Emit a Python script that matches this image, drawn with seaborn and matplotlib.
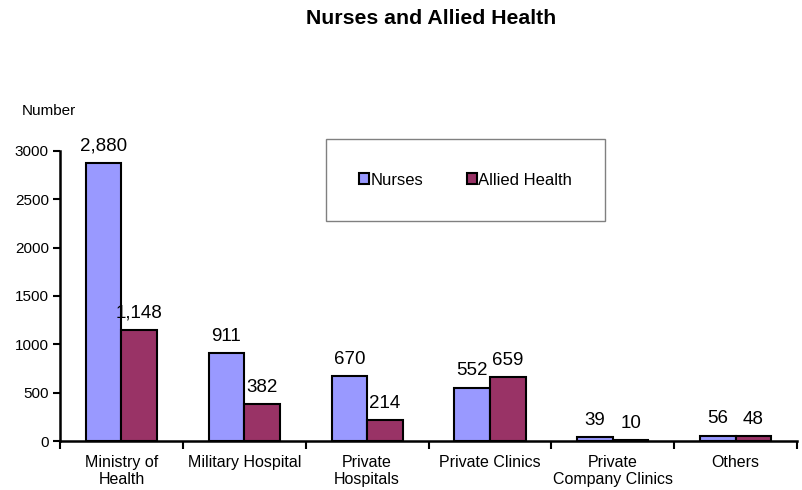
import matplotlib
matplotlib.use("Agg")
import matplotlib.pyplot as plt
from matplotlib.patches import Rectangle
import seaborn as sns
import pandas as pd
import numpy as np

categories = ["Ministry of\nHealth", "Military Hospital", "Private\nHospitals",
              "Private Clinics", "Private\nCompany Clinics", "Others"]
nurses = [2880, 911, 670, 552, 39, 56]
allied = [1148, 382, 214, 659, 10, 48]
series = ["Nurses", "Allied Health"]
colors = ["#9999FF", "#993366"]

sns.set_theme(style="white")
plt.rcParams["font.family"] = ["Liberation Sans", "DejaVu Sans"]
plt.rcParams["text.color"] = "black"
plt.rcParams["xtick.color"] = "black"
plt.rcParams["ytick.color"] = "black"
plt.rcParams["axes.labelcolor"] = "black"

df = pd.DataFrame({
    "cat": categories * 2,
    "val": nurses + allied,
    "series": [series[0]] * len(categories) + [series[1]] * len(categories),
})

fig = plt.figure(figsize=(8.03, 4.9), dpi=100)
ax = fig.add_axes([0.0747, 0.1, 0.918, 0.592])
sns.barplot(data=df, x="cat", y="val", hue="series", order=categories,
            hue_order=series, palette=colors, width=0.58, edgecolor="black",
            linewidth=1.5, saturation=1, ax=ax, legend=True)

for cont in ax.containers:
    ax.bar_label(cont, labels=[f"{v:,.0f}" for v in cont.datavalues],
                 padding=6, fontsize=13.5, color="black")

ax.set_ylim(0, 3000)
ax.set_xlim(-0.5, 5.5)
ax.set_yticks(np.arange(0, 3001, 500))
ax.tick_params(axis="y", labelsize=11, length=5, width=1.5, direction="out", left=True, pad=3)
ax.tick_params(axis="x", which="major", length=0, labelsize=11.5, pad=10)
ax.set_xticks(np.arange(-0.5, 5.6, 1), minor=True)
ax.tick_params(axis="x", which="minor", length=6, width=1.5, direction="out", bottom=True)
ax.set_xlabel("")
ax.set_ylabel("")
for s in ["top", "right"]:
    ax.spines[s].set_visible(False)
for s in ["left", "bottom"]:
    ax.spines[s].set_color("black")
    ax.spines[s].set_linewidth(1.8)

# legend box
x0, x1, y0, y1 = 326 / 803, 605 / 803, 1 - 221 / 490, 1 - 139 / 490
ax.add_patch(Rectangle((x0, y0), x1 - x0, y1 - y0, transform=fig.transFigure,
                       facecolor="white", edgecolor="#808080", linewidth=1.0,
                       zorder=5, clip_on=False))
leg = ax.legend(loc="center", bbox_to_anchor=((x0 + x1) / 2, (y0 + y1) / 2),
                bbox_transform=fig.transFigure,
                ncol=2, fontsize=12, frameon=False,
                handlelength=0.6, handleheight=0.6, handletextpad=0.1,
                columnspacing=2.6, title=None)
leg.set_zorder(6)

fig.text(431 / 803, 1 - 18 / 490, "Nurses and Allied Health", ha="center", va="center",
         fontsize=15.3, fontweight="bold")
fig.text(22 / 803, 1 - 111 / 490, "Number", ha="left", va="center", fontsize=11)

fig.savefig("out.png", dpi=100)
